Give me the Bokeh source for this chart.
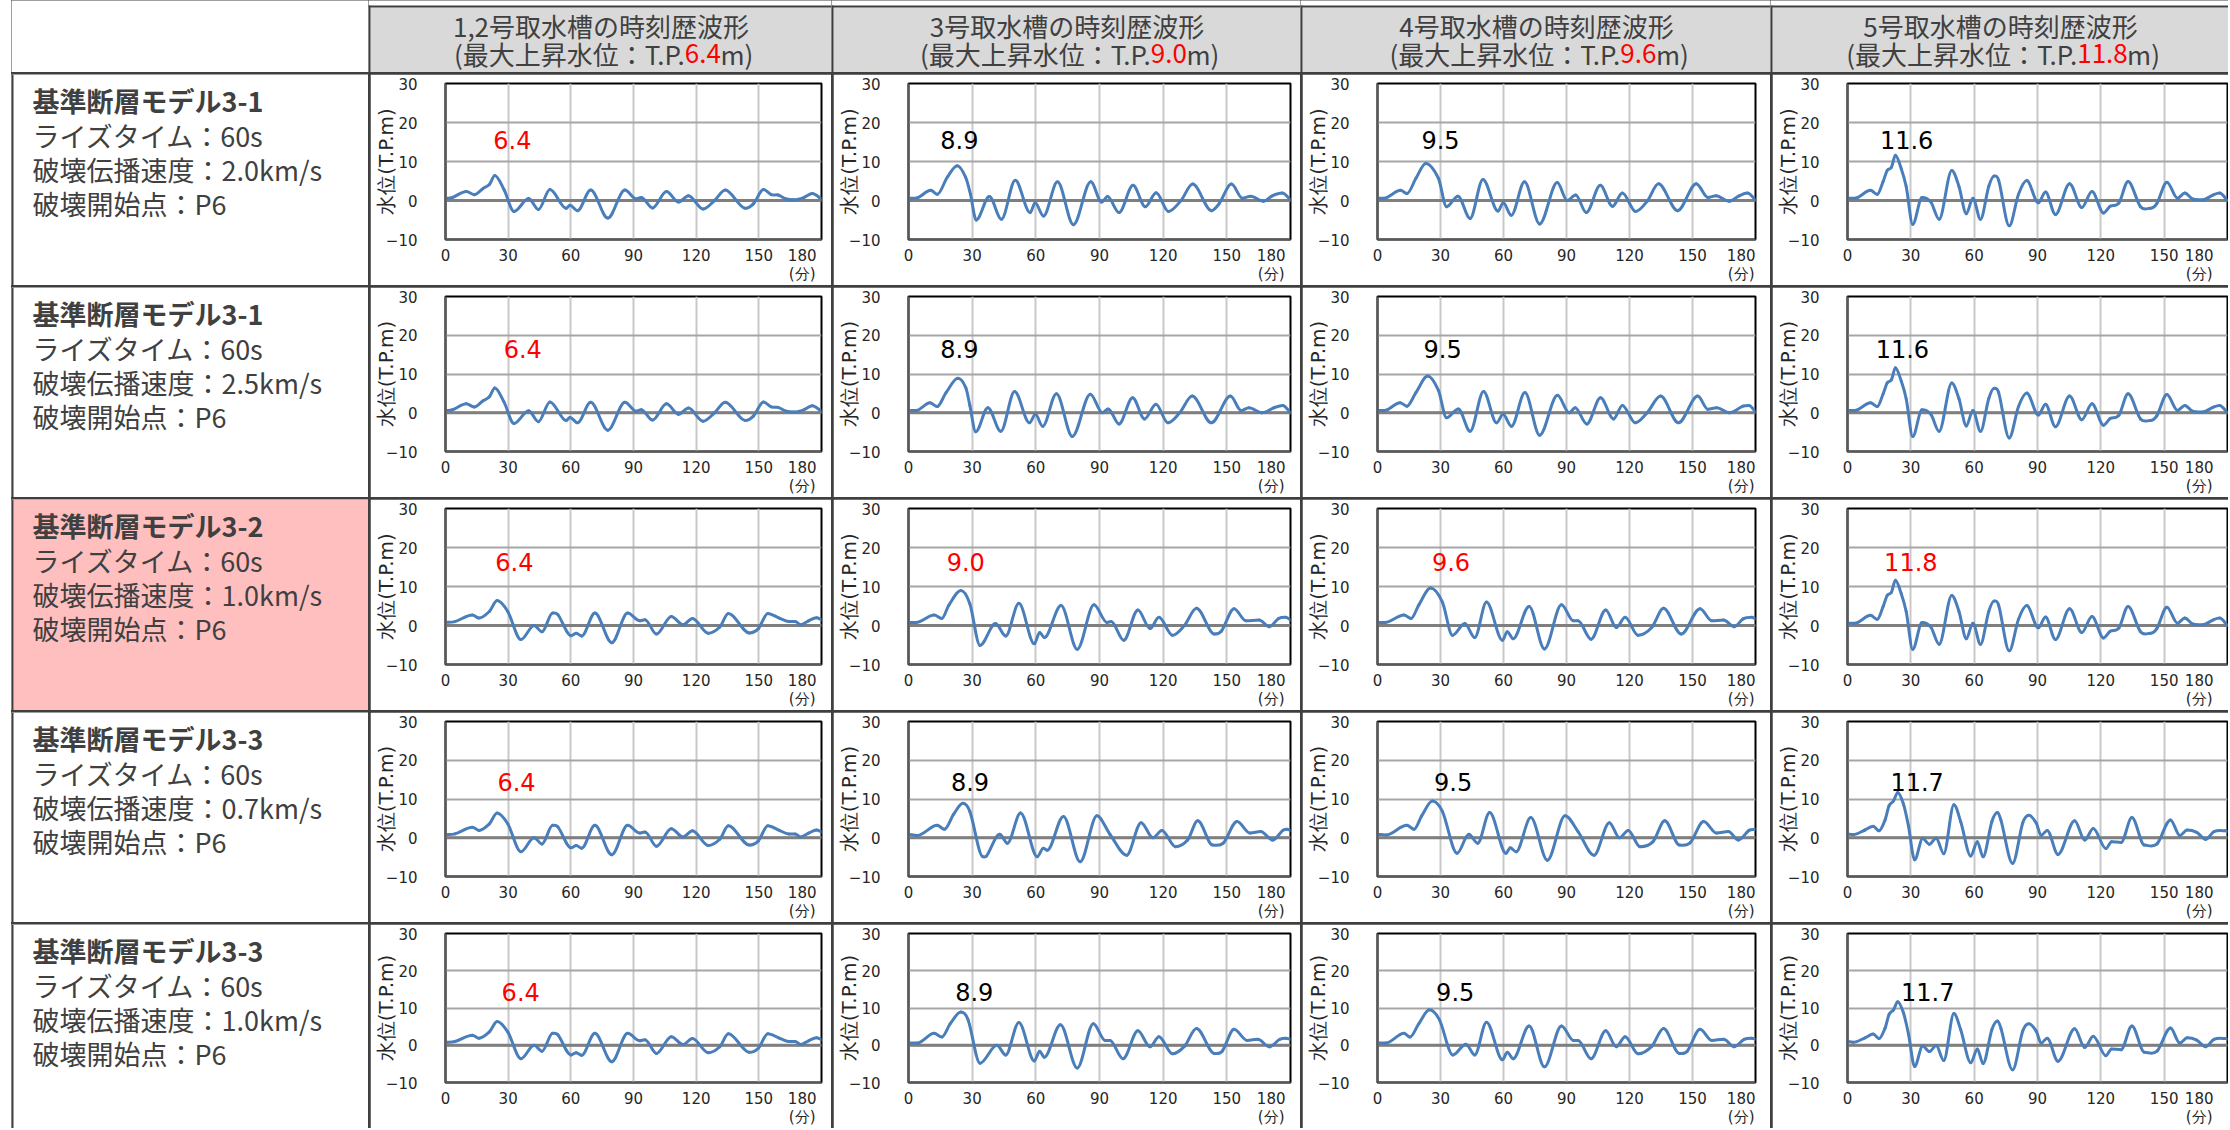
from bokeh.plotting import figure
from bokeh.layouts import row, column
from bokeh.models import Range1d, FixedTicker, Span, BoxAnnotation, Spacer
from bokeh.embed import file_html
from bokeh.resources import INLINE
from bokeh.core.properties import value

# ---------------- data ----------------
COL_TITLES = ["1,2号取水槽の時刻歴波形", "3号取水槽の時刻歴波形", "4号取水槽の時刻歴波形", "5号取水槽の時刻歴波形"]
COL_MAX = ["6.4", "9.0", "9.6", "11.8"]
ROW_MODEL = ["基準断層モデル3-1", "基準断層モデル3-1", "基準断層モデル3-2", "基準断層モデル3-3", "基準断層モデル3-3"]
ROW_RISE = ["60s", "60s", "60s", "60s", "60s"]
ROW_SPEED = ["2.0km/s", "2.5km/s", "1.0km/s", "0.7km/s", "1.0km/s"]
ROW_START = ["P6", "P6", "P6", "P6", "P6"]
PEAK_LABELS = [["6.4", "8.9", "9.5", "11.6"],
               ["6.4", "8.9", "9.5", "11.6"],
               ["6.4", "9.0", "9.6", "11.8"],
               ["6.4", "8.9", "9.5", "11.7"],
               ["6.4", "8.9", "9.5", "11.7"]]
X_TICKS = [0, 30, 60, 90, 120, 150, 180]
Y_TICKS = [-10, 0, 10, 20, 30]
X_UNIT = "(分)"
Y_TITLE = "水位(T.P.m)"

T_R1C1 = [0, 3, 10, 13.7, 18, 21, 23.6, 28, 32.8, 39.8, 44.5, 50, 57.8, 59.6, 63.2, 69.5, 77.7, 85.9, 91.3, 93.7, 99.1, 105.8, 111.6, 116.3, 123.3, 128.8, 133.9, 143.6, 147.5, 152.2, 156, 159.2, 163.1, 167, 171.7, 175.6, 180]
H_R1C1 = [0.6, 0.7, 2.3, 1.5, 3.1, 4.1, 6.4, 2.8, -2.8, 0.5, -2.3, 2.8, -2.0, -1.2, -2.6, 2.7, -4.5, 2.7, 0.4, 0.8, -1.9, 2.3, -0.4, 1.2, -2.2, 0.0, 2.7, -2.0, -0.8, 2.8, 1.5, 1.4, 0.4, 0.2, 0.8, 1.8, 0.4]
T_R1C2 = [0, 3.4, 10.5, 13.6, 18.3, 23, 26.9, 29.2, 31.9, 38.1, 43.8, 50.3, 57.3, 59.7, 63.6, 70.2, 77.7, 85.9, 91, 93.8, 99.2, 105.8, 111.6, 116.7, 122.5, 128.4, 133.9, 142.8, 146.4, 152.2, 157.3, 161.3, 167.2, 171.4, 176.1, 180]
H_R1C2 = [0.6, 0.6, 2.6, 1.6, 6.0, 8.9, 6.0, 1.6, -5.0, 1.0, -4.8, 5.2, -3.1, -0.6, -4.0, 4.8, -6.2, 4.8, -0.4, 1.0, -3.1, 3.9, -1.6, 2.0, -2.8, 0.0, 4.2, -2.6, -0.8, 4.2, 0.6, 1.1, -0.2, 1.2, 1.9, 0.2]
T_R1C3 = [0, 3.1, 11, 14.1, 18.3, 23, 29, 32.9, 38.3, 44.1, 50.2, 57.4, 59.9, 63.7, 70, 77.2, 85.6, 90.3, 94.4, 99.4, 106.1, 111.9, 116.6, 122.9, 128.4, 133.8, 142.9, 151.8, 157.3, 161.2, 167.5, 172.2, 176.1, 180]
H_R1C3 = [0.6, 0.6, 2.6, 1.8, 5.7, 9.5, 5.7, -1.6, 1.1, -4.6, 5.4, -2.7, -0.6, -3.8, 4.8, -6.0, 4.6, 0.0, 1.4, -3.1, 3.9, -1.5, 1.9, -2.8, -0.2, 4.3, -2.6, 4.3, 0.8, 1.2, -0.2, 1.2, 1.9, 0.2]
T_R1C4 = [0, 3.6, 10.9, 14.1, 16.9, 18.8, 20.8, 22.7, 25.5, 27.8, 30.9, 35.3, 39.5, 43.4, 49.4, 52.8, 56.3, 59.4, 63, 66.9, 69.5, 71.6, 76.6, 81, 84.9, 90.4, 93.8, 98.5, 105.2, 111, 115.8, 121.3, 124.4, 128.6, 132.9, 138.8, 143.4, 146.5, 151.3, 156.3, 159.8, 163.4, 168.4, 173.1, 176.3, 180]
H_R1C4 = [0.6, 0.6, 2.6, 1.6, 4.9, 7.7, 8.5, 11.6, 8.1, 3.6, -6.1, 0.8, -0.4, -4.8, 7.7, 3.6, -3.4, 0.6, -4.8, 3.6, 6.3, 5.2, -6.5, 1.6, 5.1, -0.6, 2.2, -3.6, 4.3, -1.8, 2.3, -3.2, -1.5, -0.6, 4.9, -1.6, -2.0, -0.8, 4.7, 0.6, 1.9, 0.4, 0.2, 1.4, 1.9, 0.0]
T_R2C2 = [0, 3.6, 10.1, 13.5, 17.7, 23.3, 27, 28.9, 31.7, 37.4, 43.5, 50, 57, 59.8, 63.2, 69.7, 77.2, 85.7, 91.3, 94.1, 99.2, 105.6, 111.2, 116.6, 122.2, 127.8, 133.7, 142.7, 151.7, 156.7, 160.4, 166.6, 172.2, 176.4, 180]
H_R2C2 = [0.6, 0.6, 2.6, 1.6, 5.2, 8.9, 6.5, 1.9, -4.9, 1.3, -4.8, 5.5, -2.6, -0.4, -3.5, 4.9, -6.1, 4.8, 0.0, 1.0, -2.9, 3.9, -1.6, 2.2, -2.6, 0.0, 4.3, -2.6, 4.3, 0.6, 1.3, 0.0, 1.3, 1.9, 0.0]
T_R2C3 = [0, 3.5, 10.7, 14, 18.3, 23.9, 29, 32.9, 38.5, 44.1, 50.5, 56.7, 59.8, 63.8, 70.2, 77.2, 85.7, 91.3, 94.1, 99.7, 106.2, 112.4, 116.6, 122.8, 128.4, 134.8, 143.3, 152.5, 157.3, 161.5, 167.6, 174, 176.9, 180]
H_R2C3 = [0.6, 0.6, 2.6, 1.7, 5.2, 9.5, 5.8, -1.3, 1.0, -4.8, 5.5, -2.6, -0.4, -3.5, 5.2, -5.8, 4.5, 0.0, 1.3, -2.9, 3.9, -1.6, 1.9, -2.6, 0.0, 4.3, -2.6, 4.3, 0.9, 1.3, 0.0, 1.7, 1.9, 0.3]
T_R3C1 = [0, 4.5, 12.9, 16, 21, 24.7, 29.8, 36.1, 42.4, 46.2, 51.3, 53.8, 60.1, 62.6, 65.2, 71.5, 79.6, 87.2, 93, 95.5, 101, 108.1, 113.7, 118.2, 125.8, 131.3, 135.4, 145.5, 149.8, 154.3, 159.8, 164.4, 167.4, 170, 173.8, 177.6, 180]
H_R3C1 = [0.8, 1.0, 2.7, 1.9, 3.6, 6.4, 3.6, -3.6, 0.0, -1.6, 3.2, 2.8, -2.6, -2.0, -2.7, 3.2, -4.4, 3.2, 1.2, 1.5, -2.2, 2.3, 0.2, 1.8, -2.0, -0.4, 3.1, -1.9, -0.8, 3.1, 1.9, 1.0, 1.0, 0.2, 1.2, 2.0, 1.5]
T_R3C2 = [0, 3.6, 12.1, 15.7, 19.1, 24.7, 28.9, 33.7, 41, 45.8, 52, 59.3, 61.8, 64, 71.9, 79.5, 87.4, 93.5, 95.5, 101.4, 108.1, 113.8, 118, 124.4, 130, 135.7, 144.1, 147.5, 153.4, 159, 165.2, 170, 174.4, 177.8, 180]
H_R3C2 = [0.8, 0.8, 2.7, 1.8, 5.3, 9.0, 5.6, -5.1, 0.5, -2.7, 5.7, -4.7, -1.8, -3.1, 5.1, -6.1, 5.3, 0.8, 1.0, -3.8, 4.0, -0.8, 2.1, -2.5, 0.0, 4.4, -2.2, -1.4, 4.3, 1.2, 1.4, -0.3, 1.8, 2.1, 1.4]
T_R3C3 = [0, 3.5, 12.6, 16, 19.7, 25.3, 30.9, 35.7, 41.6, 46.3, 51.9, 59.5, 61.8, 64.6, 72.2, 79.5, 87.6, 93.3, 95.5, 101.7, 108.7, 113.7, 117.9, 124.1, 130.6, 136.2, 144.6, 153.6, 159.2, 164.8, 169.9, 174.1, 178.3, 180]
H_R3C3 = [0.8, 0.8, 2.7, 1.8, 5.3, 9.6, 6.0, -2.5, 0.5, -3.1, 6.0, -3.8, -1.6, -3.4, 4.9, -6.0, 5.3, 1.2, 1.2, -3.5, 4.0, -0.5, 2.1, -2.5, -0.5, 4.4, -2.2, 4.3, 1.2, 1.4, -0.3, 1.7, 2.1, 1.7]
T_R4C2 = [0, 4.2, 13.5, 16.9, 21.3, 25.6, 28.9, 35.1, 36.8, 43, 46.6, 52.8, 60.7, 63.5, 65.4, 73, 80.9, 88.8, 94.9, 102.8, 109.6, 115.2, 119.4, 125.8, 131.5, 136.3, 143.3, 148.3, 154.8, 161, 166, 171.6, 176.4, 178.3, 180]
H_R4C2 = [0.9, 0.6, 3.2, 2.2, 6.1, 8.9, 6.8, -4.9, -4.7, 0.9, -1.4, 6.4, -4.9, -2.7, -3.2, 5.5, -6.2, 5.7, 0.9, -4.5, 3.9, 0.0, 1.9, -2.3, -0.6, 4.4, -1.9, -1.4, 4.2, 1.2, 1.6, -0.6, 1.9, 2.2, 1.9]
T_R4C3 = [0, 4, 14, 17.4, 21.1, 26.1, 30.9, 37.9, 43.5, 47.7, 53.4, 61.2, 63.2, 66, 73, 80.9, 89.3, 95.5, 103.1, 110.4, 115.2, 119.4, 125, 131.2, 136.8, 143.8, 148.9, 155.3, 161.5, 167.1, 171.9, 176.9, 180]
H_R4C3 = [0.9, 0.7, 3.2, 2.2, 5.7, 9.5, 6.8, -4.0, 0.9, -1.4, 6.5, -4.0, -2.6, -3.6, 5.2, -5.8, 5.7, 1.6, -4.5, 3.9, 0.0, 1.9, -2.3, -1.0, 4.4, -1.9, -1.3, 4.2, 1.2, 1.6, -0.6, 1.9, 2.2]
T_R5C2 = [0, 4.2, 12.1, 15.7, 19.7, 24.7, 28.1, 33.7, 41.6, 45.8, 52, 59.3, 61.8, 64, 71.6, 79.5, 87.1, 92.7, 94.9, 101.1, 108.1, 113.8, 118, 124.4, 130, 135.7, 144.1, 147.8, 153.4, 159.6, 164.6, 170, 175, 177.8, 180]
H_R5C2 = [0.6, 0.6, 3.2, 2.2, 5.8, 8.9, 6.8, -4.8, 0.0, -2.6, 6.1, -4.2, -1.6, -3.2, 5.5, -6.1, 5.8, 1.3, 1.3, -3.6, 3.9, -0.4, 2.3, -2.3, -0.3, 4.5, -2.2, -1.6, 4.3, 1.3, 1.6, -0.4, 1.6, 1.9, 1.6]
T_R5C3 = [0, 4, 12.6, 15.4, 19.7, 24.7, 29.5, 35.9, 42.1, 46.3, 51.9, 59.5, 61.8, 64.6, 72.2, 79.5, 87.6, 93.3, 95.5, 101.7, 108.7, 113.7, 117.9, 124.1, 130.6, 136.2, 143.8, 147.5, 153.6, 159.2, 164.8, 169.9, 174.6, 178.3, 180]
H_R5C3 = [0.6, 0.6, 3.2, 2.2, 5.8, 9.5, 6.8, -2.6, 0.3, -2.6, 6.2, -3.9, -1.9, -3.6, 5.2, -5.8, 5.2, 1.3, 1.3, -3.6, 3.9, -0.4, 2.3, -2.3, -0.3, 4.5, -2.2, -1.6, 4.3, 1.3, 1.6, -0.4, 1.6, 1.9, 1.6]
T_R5C4 = [0, 2.7, 8.3, 12.2, 14.9, 17.8, 19.7, 21.8, 23.8, 26.5, 28.9, 31.8, 35.6, 38.8, 42, 45.6, 50.4, 53.6, 58.4, 61.5, 64.2, 68.4, 71.1, 72.7, 78.2, 83, 85.9, 89.4, 91.7, 94.6, 99.7, 107.6, 112.4, 116.4, 122.4, 125.1, 129.6, 134.7, 140.7, 146.6, 153, 157.4, 160.9, 165.4, 169.7, 173.6, 179.2, 180]
H_R5C4 = [1.0, 0.8, 2.0, 3.0, 1.8, 4.6, 8.3, 9.5, 11.7, 8.7, 3.0, -5.7, -0.2, -1.7, -0.1, -4.1, 8.5, 4.2, -4.7, -1.0, -4.9, 4.2, 6.5, 4.5, -6.6, 3.8, 5.8, 3.8, 0.6, 1.9, -4.3, 4.4, -0.6, 2.4, -2.8, -1.0, -1.2, 5.2, -1.9, -1.6, 4.6, 0.6, 2.0, 1.4, -0.4, 1.6, 1.8, 1.6]

SERIES = [
    [(T_R1C1, H_R1C1), (T_R1C2, H_R1C2), (T_R1C3, H_R1C3), (T_R1C4, H_R1C4)],
    [(T_R1C1, H_R1C1), (T_R2C2, H_R2C2), (T_R2C3, H_R2C3), (T_R1C4, H_R1C4)],
    [(T_R3C1, H_R3C1), (T_R3C2, H_R3C2), (T_R3C3, H_R3C3), (T_R1C4, H_R1C4)],
    [(T_R3C1, H_R3C1), (T_R4C2, H_R4C2), (T_R4C3, H_R4C3), (T_R5C4, H_R5C4)],
    [(T_R3C1, H_R3C1), (T_R5C2, H_R5C2), (T_R5C3, H_R5C3), (T_R5C4, H_R5C4)],
]

# ---------------- layout / style ----------------
JP = "Noto Sans CJK JP"
NUM = "DejaVu Sans"
TXT = "#404040"
AX = "#262626"
RED = "#ff0000"
RULE = "#3f3f3f"
WAVE = "#4a7ebb"
LEFT_PAD = 11
LABEL_W = 357
COL_W = [461, 467, 468, 456]
HEAD_H = 72
ROW_H = [211, 210, 211, 210, 204]
MBL = [67, 73, 70, 72]
MBR = [10, 10, 15, 1]
FRAME_TOP = 9
FRAME_H = 166
LBL_X = [[32, 24, 30, 28], [37, 24, 31, 26], [33, 27, 35, 30], [34, 29, 36, 33], [36, 31, 37, 38]]
LBL_Y = [15.4, 16.5, 16.4, 14.5, 14.3]
PAD2 = "\u2002\u2002"


def no_align(p):
    try:
        p.frame_align = False
    except Exception:
        pass
    return p


def text_w(s, size):
    w = 0.0
    for ch in s:
        if ord(ch) > 0x2E80:
            w += 1.0
        elif ch in ".,":
            w += 0.27
        elif ch in "()":
            w += 0.33
        elif ch == "m":
            w += 0.84
        elif ch == "P":
            w += 0.6
        elif ch == "T":
            w += 0.52
        else:
            w += 0.55
    return w * size


def bare(w, h, fill="white"):
    p = figure(width=w, height=h, x_range=Range1d(0, w), y_range=Range1d(h, 0),
               x_axis_location=None, y_axis_location=None, toolbar_location=None,
               output_backend="svg", min_border=0, outline_line_color=None,
               background_fill_color=fill, border_fill_color=fill)
    for g in p.grid:
        g.visible = False
    return no_align(p)


def header(c):
    w = COL_W[c] + 2
    p = bare(w, HEAD_H)
    p.add_layout(BoxAnnotation(left=2, right=w, top=7, bottom=HEAD_H, fill_color="#d9d9d9",
                               fill_alpha=1, line_color=None, level="underlay"))
    p.segment(x0=[0], y0=[6], x1=[w], y1=[6], line_color=RULE, line_width=2)
    p.segment(x0=[1], y0=[5], x1=[1], y1=[HEAD_H], line_color=RULE, line_width=2)
    fs = 26
    cx = 2 + COL_W[c] / 2
    p.text(x=[cx], y=[25], text=[COL_TITLES[c]], text_font=value(JP), text_font_size=f"{fs}px",
           text_color=TXT, text_align="center", text_baseline="middle")
    left = "(最大上昇水位：T.P."
    right = "m)"
    wl, wm, wr = text_w(left, fs), text_w(COL_MAX[c], fs), text_w(right, fs)
    xs = cx - (wl + wm + wr) / 2 + wl
    ys = 53
    p.text(x=[xs], y=[ys], text=[left], text_font=value(JP), text_font_size=f"{fs}px",
           text_color=TXT, text_align="right", text_baseline="middle")
    p.text(x=[xs], y=[ys], text=[COL_MAX[c]], text_font=value(JP), text_font_size=f"{fs}px",
           text_color=RED, text_align="left", text_baseline="middle")
    p.text(x=[xs + wm], y=[ys], text=[right], text_font=value(JP), text_font_size=f"{fs}px",
           text_color=TXT, text_align="left", text_baseline="middle")
    return p


def label_cell(r):
    h = ROW_H[r]
    p = bare(LABEL_W, h)
    if r == 2:
        p.add_layout(BoxAnnotation(left=2, right=LABEL_W, top=0, bottom=h, fill_color="#ffbfbf",
                                   fill_alpha=1, line_color=None, level="underlay"))
    p.segment(x0=[1], y0=[0], x1=[1], y1=[h], line_color=RULE, line_width=2)
    lines = [ROW_MODEL[r], "ライズタイム：" + ROW_RISE[r], "破壊伝播速度：" + ROW_SPEED[r],
             "破壊開始点：" + ROW_START[r]]
    ys = [26, 61, 95, 129]
    for i, (s, y) in enumerate(zip(lines, ys)):
        p.text(x=[21], y=[y], text=[s], text_font=value(JP), text_font_size="27px",
               text_font_style="bold" if i == 0 else "normal", text_color=TXT,
               text_align="left", text_baseline="middle")
    return p


def smooth(t, h):
    n = len(t)
    m = []
    for i in range(n):
        if i == 0:
            m.append((h[1] - h[0]) / (t[1] - t[0]))
        elif i == n - 1:
            m.append((h[-1] - h[-2]) / (t[-1] - t[-2]))
        else:
            a, b = h[i] - h[i - 1], h[i + 1] - h[i]
            m.append(0.0 if a * b <= 0 else (h[i + 1] - h[i - 1]) / (t[i + 1] - t[i - 1]))
    d = dict(x0=[], y0=[], x1=[], y1=[], cx0=[], cy0=[], cx1=[], cy1=[])
    for i in range(n - 1):
        dx = t[i + 1] - t[i]
        d["x0"].append(t[i]); d["y0"].append(h[i])
        d["x1"].append(t[i + 1]); d["y1"].append(h[i + 1])
        d["cx0"].append(t[i] + dx / 3); d["cy0"].append(h[i] + m[i] * dx / 3)
        d["cx1"].append(t[i + 1] - dx / 3); d["cy1"].append(h[i + 1] - m[i + 1] * dx / 3)
    return d


def chart(r, c):
    w, h = COL_W[c], ROW_H[r]
    p = figure(width=w, height=h, x_range=Range1d(0, 180), y_range=Range1d(-10, 30),
               output_backend="svg", toolbar_location=None,
               min_border_left=MBL[c], min_border_right=MBR[c], min_border_top=FRAME_TOP,
               min_border_bottom=h - FRAME_TOP - FRAME_H,
               background_fill_color="white", border_fill_color="white",
               outline_line_color="black", outline_line_width=2)
    no_align(p)
    p.xaxis.ticker = FixedTicker(ticks=X_TICKS)
    p.yaxis.ticker = FixedTicker(ticks=Y_TICKS)
    p.xaxis.major_label_overrides = {X_TICKS[-1]: str(X_TICKS[-1]) + PAD2 + "\n" + X_UNIT + PAD2}
    for ax in (p.xaxis, p.yaxis):
        ax.major_tick_line_color = None
        ax.minor_tick_line_color = None
        ax.axis_line_color = "#595959"
        ax.axis_line_width = 2
        ax.major_label_text_font = NUM
        ax.major_label_text_font_size = "15px"
        ax.major_label_text_color = AX
    p.xaxis.major_label_standoff = 1
    p.xaxis.major_label_text_line_height = 1.0
    p.yaxis.major_label_standoff = 22
    p.yaxis.axis_label = Y_TITLE
    p.yaxis.axis_label_text_font = NUM
    p.yaxis.axis_label_text_font_size = "20px"
    p.yaxis.axis_label_text_font_style = "normal"
    p.yaxis.axis_label_text_color = AX
    p.yaxis.axis_label_standoff = -15
    p.xgrid.grid_line_color = "#c8c8c8"
    p.xgrid.grid_line_width = 2
    p.ygrid.grid_line_color = "#a6a6a6"
    p.ygrid.grid_line_width = 2
    p.add_layout(Span(location=0, dimension="width", line_color="#7f7f7f", line_width=3, level="underlay"))
    t, v = SERIES[r][c]
    p.bezier(line_color=WAVE, line_width=3, line_cap="round", **smooth(t, v))
    red = (c == 0) or (r == 2)
    p.text(x=[LBL_X[r][c]], y=[LBL_Y[r]], text=[PEAK_LABELS[r][c]], text_font=value(NUM),
           text_font_size="24px", text_color=RED if red else "black",
           text_align="center", text_baseline="middle")
    return p


BG = {"background-color": RULE}
head = row(bare(LABEL_W, HEAD_H), *[header(c) for c in range(4)], spacing=0)
rows = [head]
for r in range(5):
    rows.append(row(label_cell(r), *[chart(r, c) for c in range(4)], spacing=2, styles=BG))
grid = column(*rows, spacing=2, styles=BG)
total_h = HEAD_H + sum(ROW_H) + 2 * 5
page = row(Spacer(width=LEFT_PAD, height=total_h), grid, spacing=0)

open("out.html", "w").write(file_html(page, INLINE))
